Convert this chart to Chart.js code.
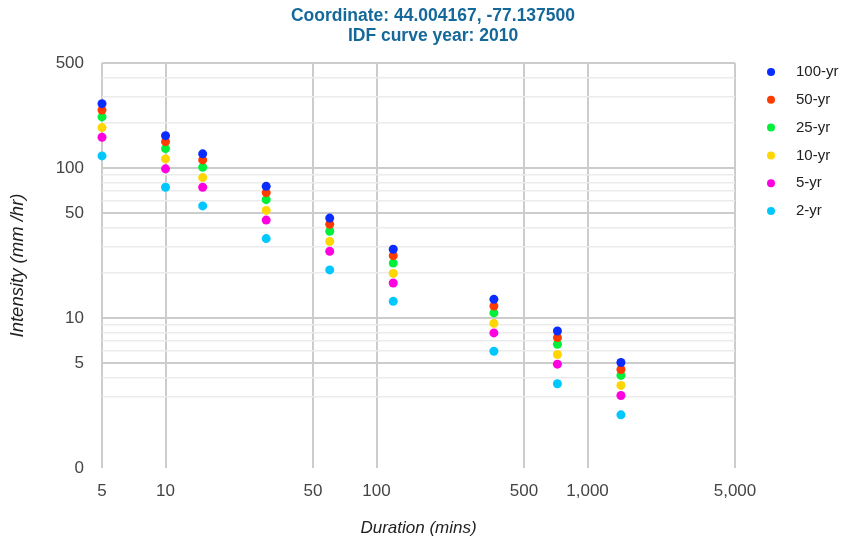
<!DOCTYPE html>
<html>
<head>
<meta charset="utf-8">
<script src="https://cdn.jsdelivr.net/npm/chart.js@4/dist/chart.umd.min.js"></script>
<style>
html,body{margin:0;padding:0;background:#fff;}
#wrap{width:848px;height:543px;}
</style>
</head>
<body>
<div id="wrap"><canvas id="c" width="848" height="543"></canvas></div>
<script>
// ---- data ----
const durations = [5, 10, 15, 30, 60, 120, 360, 720, 1440];
const seriesNames = ['100-yr', '50-yr', '25-yr', '10-yr', '5-yr', '2-yr'];
const seriesColors = ['#0a2cff', '#ff3c00', '#00f03c', '#ffd600', '#ff00e0', '#00c8ff'];
const yr100 = [268, 164, 124, 75.3, 46.3, 28.7, 13.3, 8.19, 5.05];
const yr50  = [243, 149.6, 113, 68.4, 42.1, 26.0, 12.0, 7.4, 4.53];
const yr25  = [218.7, 134.5, 100.9, 61.4, 37.8, 23.2, 10.8, 6.68, 4.14];
const yr10  = [185.5, 114.8, 86.2, 52.1, 32.3, 19.8, 9.2, 5.71, 3.55];
const yr5   = [160, 98.5, 74.3, 44.9, 27.8, 17.1, 7.95, 4.92, 3.04];
const yr2   = [120.2, 74.3, 55.8, 33.8, 20.9, 12.9, 6.0, 3.64, 2.26];
const seriesValues = [yr100, yr50, yr25, yr10, yr5, yr2];

const xTickValues = [5, 10, 50, 100, 500, 1000, 5000];
const yMajorTicks = [1, 5, 10, 50, 100, 500];
const yMajorLabels = ['0', '5', '10', '50', '100', '500'];
const yMinorTicks = [3, 4, 6, 7, 8, 9, 20, 30, 40, 60, 70, 80, 90, 200, 300, 400];

const titleLines = ['Coordinate: 44.004167, -77.137500', 'IDF curve year: 2010'];
const xTitle = 'Duration (mins)';
const yTitle = 'Intensity (mm /hr)';

const FONT = "'Liberation Sans', Arial, sans-serif";

const datasets = seriesNames.map((name, i) => ({
  label: name,
  data: durations.map((d, j) => ({x: d, y: seriesValues[i][j]})),
  backgroundColor: seriesColors[i],
  borderColor: seriesColors[i],
  borderWidth: 0,
  pointRadius: 4.5,
  pointHoverRadius: 4.5,
  showLine: false,
  clip: false
}));

const titlePlugin = {
  id: 'customTitle',
  afterDraw(chart) {
    const ctx = chart.ctx;
    ctx.save();
    ctx.fillStyle = '#15699a';
    ctx.font = "bold 17.5px " + FONT;
    ctx.textAlign = 'center';
    ctx.textBaseline = 'middle';
    ctx.fillText(titleLines[0], 433, 16);
    ctx.fillText(titleLines[1], 433, 36);
    ctx.restore();
  }
};

const legendPlugin = {
  id: 'customLegend',
  afterDraw(chart) {
    const ctx = chart.ctx;
    ctx.save();
    ctx.font = "15px " + FONT;
    ctx.textBaseline = 'middle';
    ctx.textAlign = 'left';
    chart.data.datasets.forEach((ds, i) => {
      const y = 72 + i * 27.8;
      ctx.fillStyle = ds.backgroundColor;
      ctx.beginPath();
      ctx.arc(771, y, 4, 0, Math.PI * 2);
      ctx.fill();
      ctx.fillStyle = '#222';
      ctx.fillText(ds.label, 796, y);
    });
    ctx.restore();
  }
};

new Chart(document.getElementById('c'), {
  type: 'scatter',
  data: { datasets },
  plugins: [titlePlugin, legendPlugin],
  options: {
    responsive: false,
    animation: false,
    layout: { padding: { top: 63, right: 113, bottom: 0, left: 0 } },
    plugins: {
      legend: { display: false },
      title: { display: false },
      tooltip: { enabled: false }
    },
    scales: {
      x: {
        type: 'logarithmic',
        min: 5,
        max: 5000,
        afterFit(scale) { scale.height = 75; },
        afterBuildTicks(scale) { scale.ticks = xTickValues.map(v => ({value: v})); },
        border: { display: false },
        grid: { color: '#cccccc', lineWidth: 2, drawTicks: false },
        ticks: {
          autoSkip: false,
          maxRotation: 0,
          padding: 13,
          color: '#444',
          font: { family: FONT, size: 17 },
          callback: (v) => Number(v).toLocaleString('en-US')
        },
        title: {
          display: true,
          text: xTitle,
          color: '#222',
          font: { family: FONT, size: 17, style: 'italic' },
          padding: { top: 0, bottom: 5 }
        }
      },
      y: {
        type: 'logarithmic',
        min: 1,
        max: 500,
        afterFit(scale) { scale.width = 102; },
        afterBuildTicks(scale) {
          const all = yMajorTicks.concat(yMinorTicks).sort((a, b) => a - b);
          scale.ticks = all.map(v => ({value: v}));
        },
        border: { display: false },
        grid: {
          drawTicks: false,
          lineWidth: (ctx) => {
            const v = ctx.tick ? ctx.tick.value : null;
            return yMajorTicks.includes(v) ? 2 : 1.5;
          },
          color: (ctx) => {
            const v = ctx.tick ? ctx.tick.value : null;
            if (v === 1) return 'rgba(0,0,0,0)';
            return yMajorTicks.includes(v) ? '#cccccc' : '#ebebeb';
          }
        },
        ticks: {
          autoSkip: false,
          padding: 18,
          color: '#444',
          font: { family: FONT, size: 17 },
          callback: (v) => {
            const k = yMajorTicks.indexOf(v);
            return k >= 0 ? yMajorLabels[k] : '';
          }
        },
        title: {
          display: true,
          text: yTitle,
          color: '#222',
          font: { family: FONT, size: 18.5, style: 'italic' },
          padding: { top: 7, bottom: 0 }
        }
      }
    }
  }
});
</script>
</body>
</html>
